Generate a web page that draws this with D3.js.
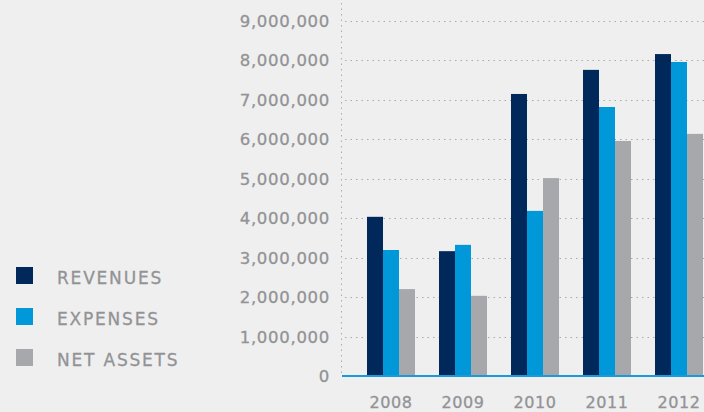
<!DOCTYPE html>
<html>
<head>
<meta charset="utf-8">
<script src="https://cdn.jsdelivr.net/npm/d3@7"></script>
<style>
  body { margin: 0; background: #efefef; }
  svg { display: block; }
  .lbl { font-family: "DejaVu Sans", sans-serif; fill: #929396; stroke: #929396; stroke-width: 0.3px; }
</style>
</head>
<body>
<svg></svg>
<script>
var width = 704;
var height = 412;

var years = ["2008", "2009", "2010", "2011", "2012"];
var seriesNames = ["REVENUES", "EXPENSES", "NET ASSETS"];
var revenues  = [4030000, 3160000, 7140000, 7750000, 8150000];
var expenses  = [3190000, 3320000, 4180000, 6810000, 7950000];
var netAssets = [2200000, 2030000, 5010000, 5950000, 6130000];
var yTicks = [0, 1000000, 2000000, 3000000, 4000000, 5000000, 6000000, 7000000, 8000000, 9000000];

var colors = ["#00285a", "#0098d8", "#a7a8ab"];
var series = [revenues, expenses, netAssets];

var svg = d3.select("svg").attr("width", width).attr("height", height);

// plot area
var plotLeft = 342, plotRight = 704, plotTop = 20.5, plotBottom = 376;

var y = d3.scaleLinear().domain([0, 9000000]).range([plotBottom, plotTop]);

var x0 = d3.scaleBand().domain(years)
  .range([343, 343 + 72 * (5 + 1/3)])
  .paddingInner(1/3)
  .paddingOuter(1/3);

var x1 = d3.scaleBand().domain(d3.range(3)).range([0, x0.bandwidth()]);

// grid lines
svg.append("g")
  .selectAll("line")
  .data(yTicks.filter(function(d) { return d > 0; }))
  .enter().append("line")
  .attr("x1", plotLeft + 3)
  .attr("x2", plotRight)
  .attr("y1", function(d) { return Math.round(y(d)) + 0.5; })
  .attr("y2", function(d) { return Math.round(y(d)) + 0.5; })
  .attr("stroke", "#a9aaad")
  .attr("stroke-width", 1)
  .attr("stroke-dasharray", "1.5,4");

// vertical axis line
svg.append("line")
  .attr("x1", plotLeft - 0.5).attr("x2", plotLeft - 0.5)
  .attr("y1", 3).attr("y2", plotBottom)
  .attr("stroke", "#a9aaad")
  .attr("stroke-dasharray", "1.5,4");

// y axis labels
var yAxis = d3.axisLeft(y).tickValues(yTicks)
  .tickSize(0).tickPadding(0)
  .tickFormat(d3.format(","));

svg.append("g")
  .attr("transform", "translate(330,0)")
  .call(yAxis)
  .call(function(g) { g.select(".domain").remove(); })
  .selectAll("text")
  .attr("class", "lbl")
  .attr("font-size", 16.5)
  .attr("letter-spacing", 0.7)
  .attr("dy", "0.36em");

// bars
var groups = svg.append("g")
  .selectAll("g")
  .data(years)
  .enter().append("g")
  .attr("transform", function(d) { return "translate(" + x0(d) + ",0)"; });

groups.selectAll("rect")
  .data(function(d, i) { return series.map(function(s, k) { return {k: k, v: s[i]}; }); })
  .enter().append("rect")
  .attr("x", function(d) { return x1(d.k); })
  .attr("width", x1.bandwidth())
  .attr("y", function(d) { return y(d.v); })
  .attr("height", function(d) { return plotBottom + 1 - y(d.v); })
  .attr("fill", function(d) { return colors[d.k]; });

// baseline
svg.append("line")
  .attr("x1", plotLeft).attr("x2", plotRight)
  .attr("y1", plotBottom).attr("y2", plotBottom)
  .attr("stroke", "#1a9bd7")
  .attr("stroke-width", 2);

// x axis labels
var xAxis = d3.axisBottom(x0).tickSize(0).tickPadding(0);
svg.append("g")
  .attr("transform", "translate(0,408)")
  .call(xAxis)
  .call(function(g) { g.select(".domain").remove(); })
  .selectAll("text")
  .attr("class", "lbl")
  .attr("font-size", 16)
  .attr("letter-spacing", 0.6)
  .attr("dy", 0);

// legend
var legend = svg.append("g")
  .selectAll("g")
  .data(seriesNames)
  .enter().append("g")
  .attr("transform", function(d, i) { return "translate(16," + (267 + i * 41) + ")"; });

legend.append("rect")
  .attr("width", 17).attr("height", 17)
  .attr("fill", function(d, i) { return colors[i]; });

legend.append("text")
  .attr("class", "lbl")
  .attr("x", 41)
  .attr("y", 16.5)
  .attr("font-size", 17)
  .attr("letter-spacing", 1.8)
  .text(function(d) { return d; });
</script>
</body>
</html>
